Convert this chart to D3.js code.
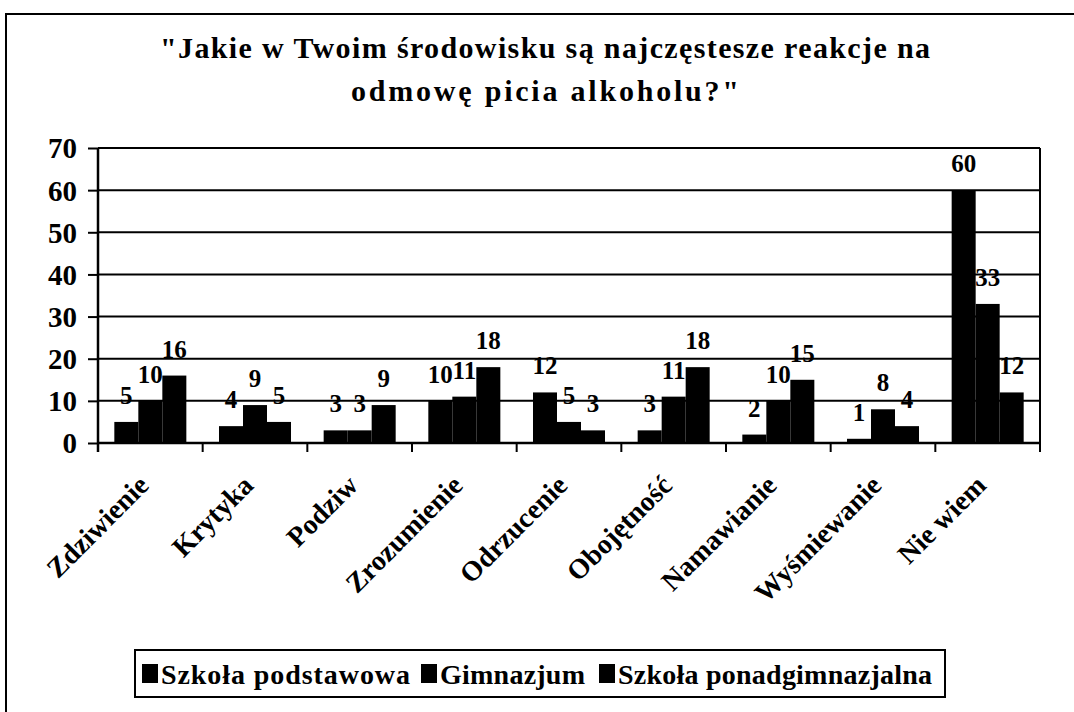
<!DOCTYPE html>
<html>
<head>
<meta charset="utf-8">
<script src="https://cdn.jsdelivr.net/npm/d3@7"></script>
<style>
  body { margin: 0; background: #fff; }
  svg text { font-family: "Liberation Serif", "Times New Roman", serif; font-weight: bold; fill: #000; }
</style>
</head>
<body>
<svg id="chart"></svg>
<script>
// data
const categories = ["Zdziwienie", "Krytyka", "Podziw", "Zrozumienie", "Odrzucenie",
  "Obojętność", "Namawianie", "Wyśmiewanie", "Nie wiem"]
const seriesNames = ["Szkoła podstawowa", "Gimnazjum", "Szkoła ponadgimnazjalna"]
const podstawowa = [5, 4, 3, 10, 12, 3, 2, 1, 60]
const gimnazjum = [10, 9, 3, 11, 5, 11, 10, 8, 33]
const ponadgimnazjalna = [16, 5, 9, 18, 3, 18, 15, 4, 12]
const yTicks = [0, 10, 20, 30, 40, 50, 60, 70]
const titleLines = ["\"Jakie w Twoim środowisku są najczęstesze reakcje na", "odmowę picia alkoholu?\""]

const W = 1074, H = 712
const svg = d3.select("#chart").attr("width", W).attr("height", H)

const series = [podstawowa, gimnazjum, ponadgimnazjalna]
const data = categories.map((c, i) => ({
  cat: c,
  values: series.map((s, j) => ({ key: seriesNames[j], value: s[i] }))
}))

// outer frame of the scanned page (only top and left visible)
svg.append("path")
  .attr("d", `M6,${H} V14 H${W}`)
  .attr("fill", "none").attr("stroke", "#000").attr("stroke-width", 2)

// title
svg.append("g").selectAll("text")
  .data(titleLines)
  .join("text")
  .attr("x", 545)
  .attr("y", (d, i) => 58 + i * 43)
  .attr("text-anchor", "middle")
  .attr("font-size", 30)
  .attr("textLength", (d, i) => i === 0 ? 770 : 388)
  .text(d => d)

// scales
const plotL = 98, plotR = 1040, plotT = 148, plotB = 443
const y = d3.scaleLinear().domain([0, 70]).range([plotB, plotT])
const x0 = d3.scaleBand().domain(categories).range([plotL, plotR])
  .paddingInner(0.312).paddingOuter(0.156)
const x1 = d3.scaleBand().domain(seriesNames).range([0, x0.bandwidth()])

// gridlines
svg.append("g").selectAll("line")
  .data(yTicks.filter(t => t > 0))
  .join("line")
  .attr("x1", plotL).attr("x2", plotR)
  .attr("y1", d => y(d)).attr("y2", d => y(d))
  .attr("stroke", "#000").attr("stroke-width", 2)

// right border of plot area
svg.append("line")
  .attr("x1", plotR).attr("x2", plotR).attr("y1", plotT).attr("y2", plotB + 9)
  .attr("stroke", "#000").attr("stroke-width", 2)

// y axis
const yAxis = svg.append("g")
  .attr("transform", `translate(${plotL},0)`)
  .call(d3.axisLeft(y).tickValues(yTicks).tickSize(10).tickSizeOuter(0).tickPadding(11))
yAxis.select(".domain").remove()
yAxis.selectAll(".tick line").attr("stroke-width", 2)
yAxis.selectAll(".tick text").attr("font-size", 29).attr("dy", "0.34em")
svg.append("line")
  .attr("x1", plotL).attr("x2", plotL).attr("y1", plotT).attr("y2", plotB + 9)
  .attr("stroke", "#000").attr("stroke-width", 2.5)

// bars
const groups = svg.append("g").selectAll("g")
  .data(data)
  .join("g")
  .attr("transform", d => `translate(${x0(d.cat)},0)`)

groups.selectAll("rect")
  .data(d => d.values)
  .join("rect")
  .attr("x", d => x1(d.key))
  .attr("y", d => y(d.value))
  .attr("width", x1.bandwidth())
  .attr("height", d => y(0) - y(d.value))
  .attr("fill", "#000")

// data labels
groups.selectAll("text")
  .data(d => d.values)
  .join("text")
  .attr("x", d => x1(d.key) + x1.bandwidth() / 2)
  .attr("y", d => y(d.value) - 18)
  .attr("text-anchor", "middle")
  .attr("font-size", 25)
  .text(d => d.value)

// x axis
const xAxis = svg.append("g")
  .attr("transform", `translate(0,${plotB})`)
  .call(d3.axisBottom(x0).tickSize(0).tickSizeOuter(0))
xAxis.select(".domain").remove()
xAxis.selectAll(".tick text")
  .attr("font-size", 28)
  .attr("text-anchor", "end")
  .attr("y", 0).attr("dy", 0)
  .attr("transform", "translate(0,44) rotate(-45)")

svg.append("line")
  .attr("x1", plotL).attr("x2", plotR).attr("y1", plotB).attr("y2", plotB)
  .attr("stroke", "#000").attr("stroke-width", 2.5)

// category boundary ticks
const gap = x0.step() - x0.bandwidth()
const bounds = categories.map(c => x0(c) - gap / 2).concat([plotR])
svg.append("g").selectAll("line")
  .data(bounds)
  .join("line")
  .attr("x1", d => d).attr("x2", d => d)
  .attr("y1", plotB).attr("y2", plotB + 9)
  .attr("stroke", "#000").attr("stroke-width", 2)

// legend
const legend = svg.append("g")
svg.append("rect")
  .attr("x", 135).attr("y", 650).attr("width", 810).attr("height", 47)
  .attr("fill", "none").attr("stroke", "#000").attr("stroke-width", 2)
const legendItems = [
  { name: seriesNames[0], sx: 142, tx: 161, tw: 249 },
  { name: seriesNames[1], sx: 421, tx: 440, tw: 145 },
  { name: seriesNames[2], sx: 599, tx: 618, tw: 314 }
]
legend.selectAll("rect")
  .data(legendItems)
  .join("rect")
  .attr("x", d => d.sx).attr("y", 664)
  .attr("width", 16).attr("height", 19)
  .attr("fill", "#000")
legend.selectAll("text")
  .data(legendItems)
  .join("text")
  .attr("x", d => d.tx).attr("y", 684)
  .attr("font-size", 28)
  .attr("textLength", d => d.tw)
  .text(d => d.name)
</script>
</body>
</html>
